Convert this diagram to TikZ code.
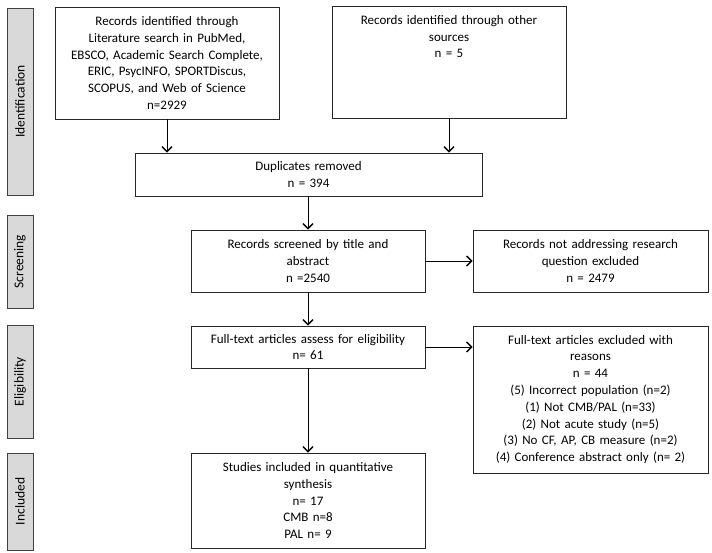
\documentclass[tikz,border=0pt]{standalone}
\usepackage{fontspec}
\setmainfont{Carlito}
\usetikzlibrary{arrows.meta}
\begin{document}
\begin{tikzpicture}[x=1pt,y=-1pt,
  box/.style={draw=black!85, line width=0.9pt, fill=white, align=center, inner sep=0pt,
    font=\fontsize{13}{16.8}\selectfont},
  lbl/.style={align=center, inner sep=0pt, font=\fontsize{13}{16.8}\selectfont},
  phase/.style={draw=black!75, line width=1pt, fill=gray!30, rotate=90, inner sep=0pt,
    minimum height=26, font=\fontsize{13.5}{15}\selectfont, text=black},
  arr/.style={line width=0.8pt, -{Straight Barb[length=5pt,width=10pt,line width=1.3pt]}}
]
\useasboundingbox[fill=white] (0,0) rectangle (712,552);

% phase bars
\node[phase, minimum width=187] (ident) at (20,101.5) {Identification};
\node[phase, minimum width=93]  (screen) at (20,261.5) {Screening};
\node[phase, minimum width=113] (elig) at (20,381.5) {Eligibility};
\node[phase, minimum width=97]  (incl) at (20,501.5) {Included};

% boxes
\node[box, text width=218, minimum width=224, minimum height=112] (box1) at (167,63)
  {Records identified through\\Literature search in PubMed,\\EBSCO, Academic Search Complete,\\ERIC, PsycINFO, SPORTDiscus,\\SCOPUS, and Web of Science\\n=2929};
\node[box, minimum width=234, minimum height=112] (box2) at (449,62) {};
\node[lbl, text width=228, anchor=north] (box2txt) at ([yshift=-9.5pt]box2.north)
  {Records identified through other\\sources\\n = 5};
\node[box, text width=340, minimum width=347, minimum height=43] (dup) at (308.5,174.5)
  {Duplicates removed\\n = 394};
\node[box, text width=228, minimum width=234, minimum height=62] (screened) at (308,261)
  {Records screened by title and\\abstract\\n =2540};
\node[box, text width=228, minimum width=235, minimum height=62] (notaddr) at (590.5,261)
  {Records not addressing research\\question excluded\\n = 2479};
\node[box, text width=228, minimum width=234, minimum height=42] (full) at (308,347)
  {Full-text articles assess for eligibility\\n= 61};
\node[box, text width=228, minimum width=235, minimum height=147] (excl) at (590.5,399.5)
  {Full-text articles excluded with\\reasons\\n = 44\\(5) Incorrect population (n=2)\\(1) Not CMB/PAL (n=33)\\(2) Not acute study (n=5)\\(3) No CF, AP, CB measure (n=2)\\(4) Conference abstract only (n= 2)};
\node[box, text width=228, minimum width=234, minimum height=95] (included) at (308,500.5)
  {Studies included in quantitative\\synthesis\\n= 17\\CMB n=8\\PAL n= 9};

% connectors
\draw[arr] (box1.south) -- (box1.south |- dup.north);
\draw[arr] (box2.south) -- (box2.south |- dup.north);
\draw[arr] (dup.south -| screened.north) -- (screened.north);
\draw[arr] (screened.east) -- (screened.east -| notaddr.west);
\draw[arr] (screened.south) -- (full.north);
\draw[arr] (full.east) -- (full.east -| excl.west);
\draw[arr] (full.south) -- (included.north);
\end{tikzpicture}
\end{document}
